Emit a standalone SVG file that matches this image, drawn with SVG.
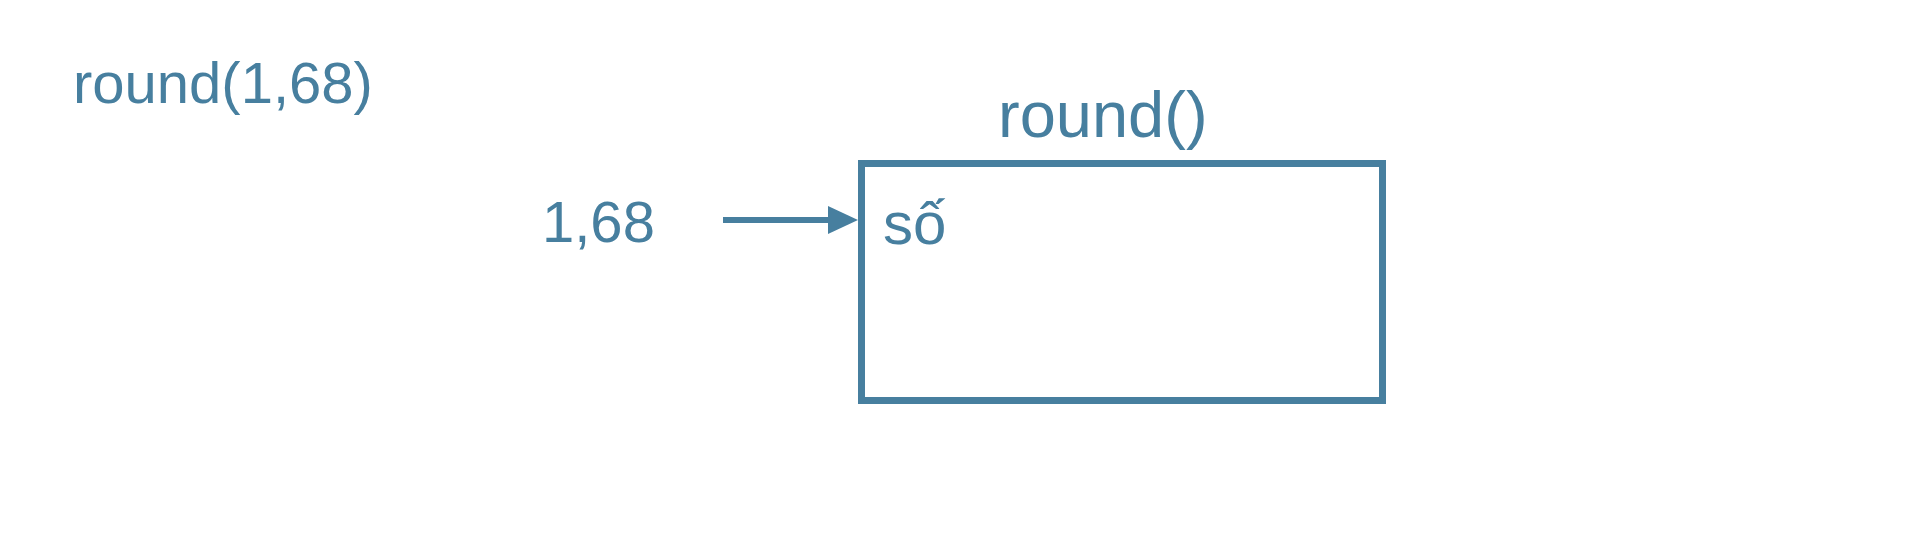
<svg xmlns="http://www.w3.org/2000/svg" width="1920" height="560" viewBox="0 0 1920 560">
  <style>
    .t { font-family: "Liberation Sans", Arial, Helvetica, sans-serif; fill: #477f9f; }
    .box { fill: none; stroke: #477f9f; stroke-width: 7; }
    .conn { stroke: #477f9f; stroke-width: 6; fill: none; }
  </style>
  <defs>
    <marker id="arrow" markerUnits="userSpaceOnUse" viewBox="0 0 30 28" refX="7" refY="14" markerWidth="30" markerHeight="28" orient="auto">
      <polygon points="0,0 30,14 0,28" fill="#477f9f"/>
    </marker>
  </defs>
  <rect width="1920" height="560" fill="#ffffff"/>
  <g id="call-label">
    <text class="t" x="73" y="103" font-size="58">round(1,68)</text>
  </g>
  <g id="input-value">
    <text class="t" x="542" y="242" font-size="58">1,68</text>
  </g>
  <g id="round-function">
    <text class="t" x="998" y="137" font-size="65">round()</text>
    <rect class="box" x="861.5" y="163.5" width="521" height="237"/>
    <text class="t" x="883" y="244" font-size="60">số</text>
  </g>
  <g id="connectors">
    <line class="conn" x1="723" y1="220" x2="835" y2="220" marker-end="url(#arrow)"/>
  </g>
</svg>
